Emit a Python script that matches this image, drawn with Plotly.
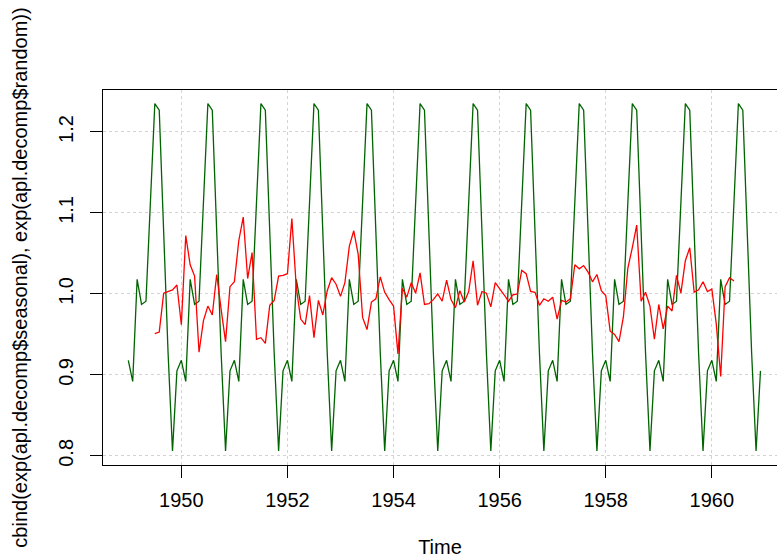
import plotly.graph_objects as go

# ---- data ----
# exp(seasonal) of log(AirPassengers) decomposition, Jan 1949 .. Dec 1960 (monthly)
seasonal = [
    0.918, 0.892, 1.018, 0.987, 0.991, 1.122, 1.235, 1.227, 1.067, 0.927, 0.806, 0.905,  # 1949
    0.918, 0.892, 1.018, 0.987, 0.991, 1.122, 1.235, 1.227, 1.067, 0.927, 0.806, 0.905,  # 1950
    0.918, 0.892, 1.018, 0.987, 0.991, 1.122, 1.235, 1.227, 1.067, 0.927, 0.806, 0.905,  # 1951
    0.918, 0.892, 1.018, 0.987, 0.991, 1.122, 1.235, 1.227, 1.067, 0.927, 0.806, 0.905,  # 1952
    0.918, 0.892, 1.018, 0.987, 0.991, 1.122, 1.235, 1.227, 1.067, 0.927, 0.806, 0.905,  # 1953
    0.918, 0.892, 1.018, 0.987, 0.991, 1.122, 1.235, 1.227, 1.067, 0.927, 0.806, 0.905,  # 1954
    0.918, 0.892, 1.018, 0.987, 0.991, 1.122, 1.235, 1.227, 1.067, 0.927, 0.806, 0.905,  # 1955
    0.918, 0.892, 1.018, 0.987, 0.991, 1.122, 1.235, 1.227, 1.067, 0.927, 0.806, 0.905,  # 1956
    0.918, 0.892, 1.018, 0.987, 0.991, 1.122, 1.235, 1.227, 1.067, 0.927, 0.806, 0.905,  # 1957
    0.918, 0.892, 1.018, 0.987, 0.991, 1.122, 1.235, 1.227, 1.067, 0.927, 0.806, 0.905,  # 1958
    0.918, 0.892, 1.018, 0.987, 0.991, 1.122, 1.235, 1.227, 1.067, 0.927, 0.806, 0.905,  # 1959
    0.918, 0.892, 1.018, 0.987, 0.991, 1.122, 1.235, 1.227, 1.067, 0.927, 0.806, 0.905,  # 1960
]

# exp(random), Jul 1949 .. Jun 1960 (monthly)
random_part = [
    0.951, 0.953, 1.001, 1.003, 1.005, 1.011,                                          # 1949 Jul-Dec
    0.962, 1.072, 1.036, 1.022, 0.928, 0.967, 0.985, 0.974, 1.024, 0.981, 0.941, 1.009,  # 1950
    1.015, 1.066, 1.095, 1.019, 1.051, 0.944, 0.946, 0.939, 0.986, 0.992, 1.022, 1.023,  # 1951
    1.025, 1.093, 1.008, 0.969, 0.962, 0.998, 0.946, 0.992, 0.974, 1.004, 1.020, 1.012,  # 1952
    0.997, 1.014, 1.059, 1.078, 1.049, 0.971, 0.956, 0.990, 0.994, 1.021, 1.002, 0.993,  # 1953
    0.985, 0.926, 1.007, 0.996, 1.014, 1.001, 1.026, 0.987, 0.988, 0.993, 1.000, 0.991,  # 1954
    1.017, 0.993, 0.983, 1.004, 0.990, 1.003, 1.041, 0.986, 1.003, 1.001, 0.984, 1.014,  # 1955
    1.007, 0.999, 0.991, 0.999, 1.000, 1.029, 1.025, 1.003, 1.002, 0.986, 0.994, 0.991,  # 1956
    0.996, 0.969, 0.992, 0.990, 0.994, 1.036, 1.031, 1.035, 1.027, 1.015, 1.024, 1.004,  # 1957
    0.998, 0.954, 0.950, 0.941, 0.972, 1.032, 1.057, 1.085, 0.991, 1.002, 0.985, 0.944,  # 1958
    0.987, 0.957, 0.985, 0.979, 1.023, 1.001, 1.041, 1.057, 1.002, 1.005, 1.015, 1.003,  # 1959
    1.006, 0.963, 0.898, 1.009, 1.020, 1.016,                                          # 1960 Jan-Jun
]

start_seasonal = 1949.0
start_random = 1949.0 + 6 / 12.0
x_ticks = [1950, 1952, 1954, 1956, 1958, 1960]
x_tick_labels = ["1950", "1952", "1954", "1956", "1958", "1960"]
y_ticks = [0.8, 0.9, 1.0, 1.1, 1.2]
y_tick_labels = ["0.8", "0.9", "1.0", "1.1", "1.2"]

time_seasonal = [start_seasonal + i / 12.0 for i in range(len(seasonal))]
time_random = [start_random + i / 12.0 for i in range(len(random_part))]

FONT = "Liberation Sans, Arial, Helvetica, sans-serif"

fig = go.Figure()
fig.add_trace(go.Scatter(x=time_seasonal, y=seasonal, mode="lines",
                         line=dict(color="#006400", width=1.3), hoverinfo="skip"))
fig.add_trace(go.Scatter(x=time_random, y=random_part, mode="lines",
                         line=dict(color="#FF0000", width=1.3), hoverinfo="skip"))

axis_common = dict(
    showline=True, linecolor="black", linewidth=1.3,
    ticks="outside", ticklen=12, tickwidth=1.3, tickcolor="black",
    showgrid=True, gridcolor="#D3D3D3", gridwidth=1, griddash="dot",
    zeroline=False, tickfont=dict(family=FONT, size=20, color="black"),
)

fig.update_layout(
    width=777, height=558,
    margin=dict(l=103, r=0, t=90, b=93, pad=0),
    paper_bgcolor="white", plot_bgcolor="white",
    showlegend=False,
    font=dict(family=FONT, size=20, color="black"),
    xaxis=dict(
        range=[1948.5233, 1961.228], tickmode="array",
        tickvals=x_ticks, ticktext=x_tick_labels, mirror=True,
        ticklabelstandoff=5,
        title=dict(text="Time", font=dict(family=FONT, size=20, color="black"), standoff=30),
        automargin=False,
        **axis_common,
    ),
    yaxis=dict(
        range=[0.78875, 1.25185], tickmode="array",
        tickvals=y_ticks, ticktext=y_tick_labels, tickangle=-90, mirror=False,
        ticklabelstandoff=9,
        title=dict(text="cbind(exp(apl.decomp$seasonal), exp(apl.decomp$random))",
                   font=dict(family=FONT, size=20, color="black"), standoff=21),
        automargin=False,
        **axis_common,
    ),
)

fig.write_html("out.html")
